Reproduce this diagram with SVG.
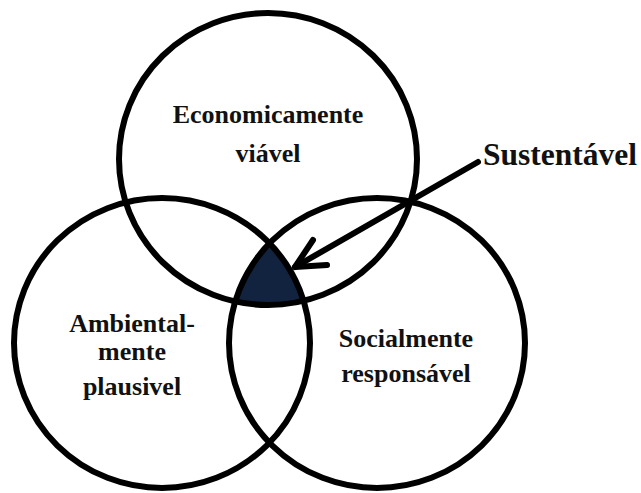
<svg xmlns="http://www.w3.org/2000/svg" width="641" height="493" viewBox="0 0 641 493">
  <style>
    .ring { fill: none; stroke: #000; stroke-width: 6; }
    .label { font-family: "Liberation Serif", "Times New Roman", serif; font-weight: bold; font-size: 26px; fill: #111; text-anchor: middle; }
    .arrow { fill: none; stroke: #000; stroke-width: 6; stroke-linecap: round; stroke-linejoin: round; }
  </style>
  <defs>
    <clipPath id="clip-left">
      <ellipse cx="162" cy="343" rx="148" ry="145"/>
    </clipPath>
    <clipPath id="clip-right">
      <ellipse cx="377" cy="343" rx="148" ry="145"/>
    </clipPath>
  </defs>
  <rect width="641" height="493" fill="#fff"/>

  <!-- shared centre: all three sets overlap -->
  <g id="core">
    <g clip-path="url(#clip-left)">
      <g clip-path="url(#clip-right)">
        <ellipse cx="268" cy="159" rx="149" ry="146" fill="#12233f"/>
      </g>
    </g>
  </g>

  <g id="economico">
    <ellipse class="ring" cx="268" cy="159" rx="149" ry="146"/>
    <text class="label" x="268" y="123">Economicamente</text>
    <text class="label" x="268" y="162">viável</text>
  </g>

  <g id="ambiental">
    <ellipse class="ring" cx="162" cy="343" rx="148" ry="145"/>
    <text class="label" x="132" y="332">Ambiental-</text>
    <text class="label" x="132" y="360">mente</text>
    <text class="label" x="132" y="395">plausivel</text>
  </g>

  <g id="social">
    <ellipse class="ring" cx="377" cy="343" rx="148" ry="145"/>
    <text class="label" x="406" y="347">Socialmente</text>
    <text class="label" x="406" y="382">responsável</text>
  </g>

  <g id="sustentavel">
    <text class="label" x="560" y="165" style="font-size:31.5px">Sustentável</text>
  </g>

  <g id="connectors">
    <path class="arrow" d="M478,162 L295,267"/>
    <path class="arrow" d="M313,240 L295,267 L327,265"/>
  </g>
</svg>
